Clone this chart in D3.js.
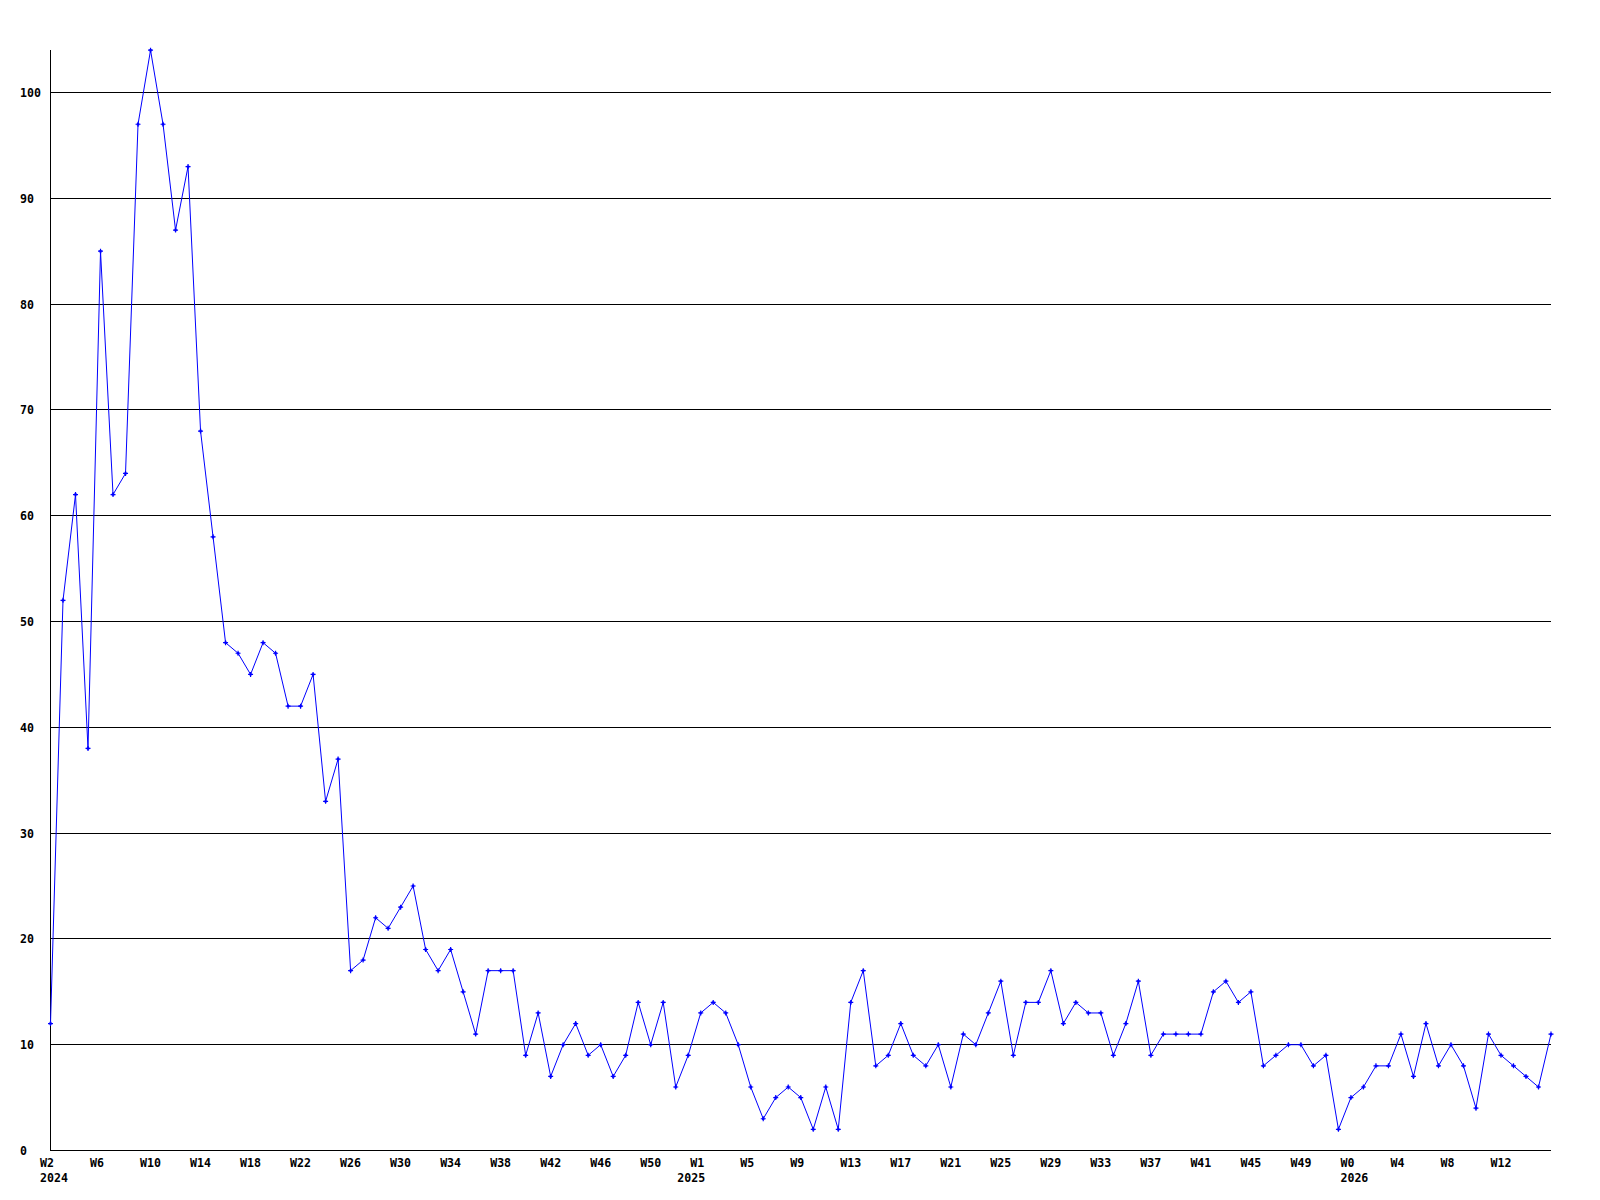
<!DOCTYPE html>
<html>
<head>
<meta charset="utf-8">
<script src="https://cdn.jsdelivr.net/npm/d3@7"></script>
<style>
body { margin: 0; background: #fff; }
text { font-family: "DejaVu Sans Mono", "Liberation Mono", monospace; font-weight: bold; font-size: 11.6px; fill: #000; }
</style>
</head>
<body>
<svg id="chart" width="1600" height="1200"></svg>
<script>
// weekly counts, 2024 W2 .. 2026 W16
var values = [
	12, 52, 62, 38, 85, 62, 64, 97, 104, 97, 87, 93, 68, 58, 48, 47, 45, 48, 47, 42,
	42, 45, 33, 37, 17, 18, 22, 21, 23, 25, 19, 17, 19, 15, 11, 17, 17, 17, 9, 13,
	7, 10, 12, 9, 10, 7, 9, 14, 10, 14, 6, 9, 13, 14, 13, 10, 6, 3, 5, 6,
	5, 2, 6, 2, 14, 17, 8, 9, 12, 9, 8, 10, 6, 11, 10, 13, 16, 9, 14, 14,
	17, 12, 14, 13, 13, 9, 12, 16, 9, 11, 11, 11, 11, 15, 16, 14, 15, 8, 9, 10,
	10, 8, 9, 2, 5, 6, 8, 8, 11, 7, 12, 8, 10, 8, 4, 11, 9, 8, 7, 6,
	11
];
var years = [2024, 2025, 2026];
var firstWeek = [2, 0, 0];
var lastWeek = [52, 52, 16];
var yTicks = [0, 10, 20, 30, 40, 50, 60, 70, 80, 90, 100];
var tickStep = 4;

window.onload = init;

function init() {
	var weeks = [];
	years.forEach(function(yr, k) {
		d3.range(firstWeek[k], lastWeek[k] + 1).forEach(function(w) {
			weeks.push({ year: yr, week: w });
		});
	});

	var svg = d3.select("#chart");
	var left = 50.5, right = 1551, top = 50.2, bottom = 1150.5;

	var x = d3.scaleLinear().domain([0, weeks.length - 1]).range([left, right]);
	var y = d3.scaleLinear().domain([0, 104]).range([bottom, top]);
	var crisp = function(v) { return Math.round(v - 0.5) + 0.5; };

	// grid lines
	svg.append("g").attr("class", "grid")
		.selectAll("line")
		.data(yTicks)
		.enter().append("line")
		.attr("x1", left)
		.attr("x2", right)
		.attr("y1", function(d) { return crisp(y(d)); })
		.attr("y2", function(d) { return crisp(y(d)); })
		.attr("stroke", "#000")
		.attr("shape-rendering", "crispEdges");

	// left axis line
	svg.append("line")
		.attr("x1", left).attr("x2", left)
		.attr("y1", 50).attr("y2", bottom)
		.attr("stroke", "#000")
		.attr("shape-rendering", "crispEdges");

	// y labels
	var yAxis = d3.axisLeft(y).tickValues(yTicks).tickSize(0).tickPadding(0);
	var gy = svg.append("g").attr("class", "y-axis").call(yAxis);
	gy.select(".domain").remove();
	gy.selectAll("text")
		.attr("text-anchor", "start")
		.attr("x", 20)
		.attr("dy", "0.35em")
		.attr("font-size", null)
		.attr("font-family", null);

	// x labels (last label sits at W12 2026, not on the final point)
	var tickIdx = d3.range(0, weeks.length - 1, tickStep);
	var xAxis = d3.axisBottom(x).tickValues(tickIdx).tickSize(0).tickPadding(0)
		.tickFormat(function(i) { return "W" + weeks[i].week; });
	var gx = svg.append("g").attr("class", "x-axis")
		.attr("transform", "translate(0," + 1166.5 + ")")
		.call(xAxis);
	gx.select(".domain").remove();
	gx.selectAll("text")
		.attr("text-anchor", "start")
		.attr("x", -11)
		.attr("y", 0)
		.attr("dy", null)
		.attr("font-size", null)
		.attr("font-family", null);

	// year under first tick of each year
	var seen = {};
	gx.selectAll(".tick").each(function(i) {
		var yr = weeks[i].year;
		if (seen[yr]) return;
		seen[yr] = true;
		d3.select(this).append("text")
			.attr("text-anchor", "start")
			.attr("x", weeks[i].week === 1 ? -24 : -11)
			.attr("y", 15)
			.text(yr);
	});

	// series line
	var line = d3.line()
		.x(function(d, i) { return x(i); })
		.y(function(d) { return y(d); });
	svg.append("path")
		.datum(values)
		.attr("d", line)
		.attr("fill", "none")
		.attr("stroke", "#0000ff")
		.attr("stroke-width", 1);

	// markers
	svg.append("g").attr("class", "marks")
		.selectAll("path")
		.data(values)
		.enter().append("path")
		.attr("transform", function(d, i) { return "translate(" + x(i) + "," + y(d) + ")"; })
		.attr("d", "M-2.5,-0.6H-1.2V-1.2H-0.6V-2.5H0.6V-1.2H1.2V-0.6H2.5V0.6H1.2V1.2H0.6V2.5H-0.6V1.2H-1.2V0.6H-2.5Z")
		.attr("fill", "#0000ff");
}
</script>
</body>
</html>
